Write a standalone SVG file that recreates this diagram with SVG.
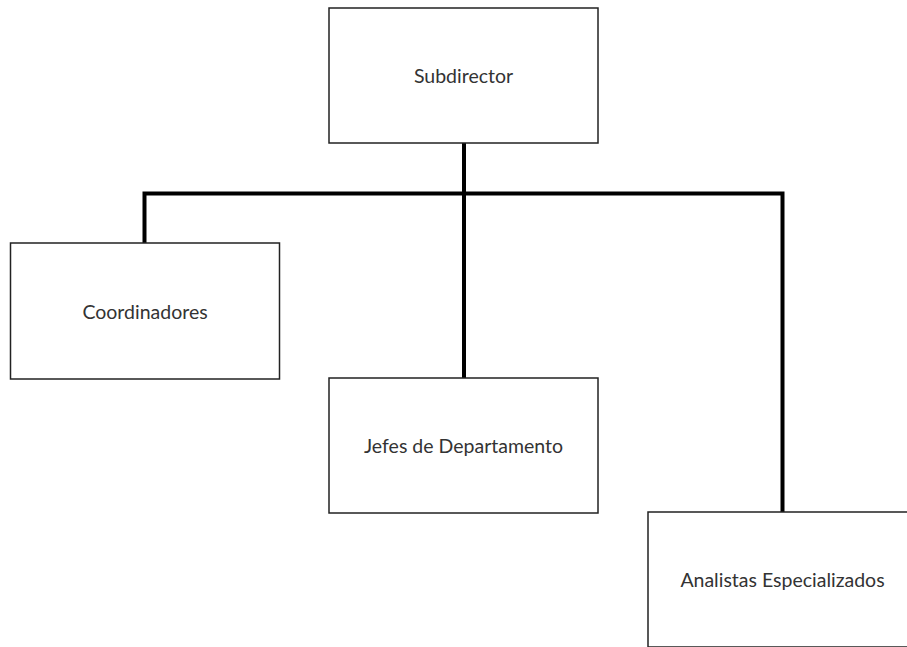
<svg xmlns="http://www.w3.org/2000/svg" width="907" height="647" viewBox="0 0 907 647">
  <style>
    .box { fill: #ffffff; stroke: #222222; stroke-width: 1.5; }
    .label { font-family: "Lato", "Open Sans", "Liberation Sans", sans-serif; font-size: 19.5px; fill: #333333; text-anchor: middle; dominant-baseline: central; }
    .conn { fill: none; stroke: #000000; stroke-width: 4; stroke-linejoin: miter; }
  </style>
  <rect width="907" height="647" fill="#ffffff"/>
  <g id="connectors">
    <path class="conn" d="M464 143 V378"/>
    <path class="conn" d="M144.5 243 V193.5 H782.5 V512"/>
  </g>
  <g id="subdirector">
    <rect class="box" x="329" y="8" width="269" height="135"/>
    <text class="label" x="463.5" y="75.5">Subdirector</text>
  </g>
  <g id="coordinadores">
    <rect class="box" x="10.5" y="243" width="269" height="136"/>
    <text class="label" x="145" y="311">Coordinadores</text>
  </g>
  <g id="jefes">
    <rect class="box" x="329" y="378" width="269" height="135"/>
    <text class="label" x="463.5" y="445.5">Jefes de Departamento</text>
  </g>
  <g id="analistas">
    <rect class="box" x="648" y="512" width="269" height="135"/>
    <text class="label" x="782.5" y="579.5">Analistas Especializados</text>
  </g>
</svg>
